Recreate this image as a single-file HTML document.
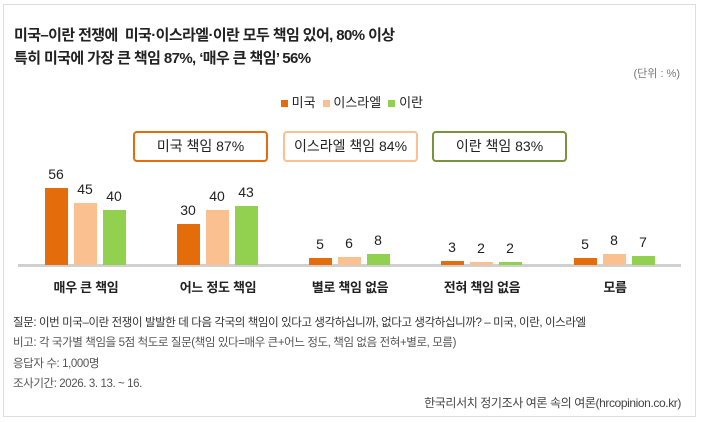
<!DOCTYPE html>
<html><head><meta charset="utf-8"><style>
body{margin:0;background:#fff;font-family:"Liberation Sans","Noto Sans CJK KR",sans-serif;}
.w{position:relative;width:701px;height:422px;overflow:hidden;}
.t{position:absolute;white-space:nowrap;}
.bar{position:absolute;width:23px;}
.o{background:#e46c0a}.p{background:#fac090}.g{background:#92d050}
.v{position:absolute;width:40px;text-align:center;font-size:14px;color:#222;}
.box{position:absolute;top:131px;height:27px;width:131px;border:2px solid;border-radius:4px;text-align:center;line-height:27px;font-size:14px;color:#222;}
.c{position:absolute;width:132px;text-align:center;font-size:13px;font-weight:bold;color:#222;top:277px;letter-spacing:-0.3px}
</style></head><body><div class="w">
<div style="position:absolute;left:3px;top:4px;width:691px;height:411px;border:1.5px solid #ddd;"></div>
<div class="t" style="left:14px;top:24px;font-size:15px;font-weight:bold;letter-spacing:-0.6px;color:#222">미국–이란 전쟁에&nbsp; 미국·이스라엘·이란 모두 책임 있어, 80% 이상</div>
<div class="t" style="left:14px;top:47px;font-size:15px;font-weight:bold;letter-spacing:-0.6px;color:#222">특히 미국에 가장 큰 책임 87%, ‘매우 큰 책임’ 56%</div>
<div class="t" style="right:21px;top:65px;font-size:11px;color:#777">(단위 : %)</div>
<div class="t" style="left:281px;top:92px;font-size:13px;color:#222"><span style="display:inline-block;width:7px;height:7px;background:#e46c0a"></span> 미국&nbsp; <span style="display:inline-block;width:7px;height:7px;background:#fac090"></span> 이스라엘&nbsp; <span style="display:inline-block;width:7px;height:7px;background:#92d050"></span> 이란</div>
<div class="box" style="left:133px;border-color:#e46c0a">미국 책임 87%</div>
<div class="box" style="left:283px;border-color:#fac090">이스라엘 책임 84%</div>
<div class="box" style="left:432px;border-color:#77933c">이란 책임 83%</div>
<div style="position:absolute;left:18px;top:264px;width:663px;height:3px;background:#d0d0d0"></div>
<div class="bar o" style="left:45px;top:188px;height:77px"></div><div class="v" style="left:36px;top:166px">56</div>
<div class="bar p" style="left:74px;top:203px;height:62px"></div><div class="v" style="left:65px;top:181px">45</div>
<div class="bar g" style="left:103px;top:210px;height:55px"></div><div class="v" style="left:94px;top:188px">40</div>
<div class="bar o" style="left:177px;top:224px;height:41px"></div><div class="v" style="left:168px;top:202px">30</div>
<div class="bar p" style="left:206px;top:210px;height:55px"></div><div class="v" style="left:197px;top:188px">40</div>
<div class="bar g" style="left:235px;top:206px;height:59px"></div><div class="v" style="left:226px;top:184px">43</div>
<div class="bar o" style="left:309px;top:258px;height:7px"></div><div class="v" style="left:300px;top:236px">5</div>
<div class="bar p" style="left:338px;top:257px;height:8px"></div><div class="v" style="left:329px;top:235px">6</div>
<div class="bar g" style="left:367px;top:254px;height:11px"></div><div class="v" style="left:358px;top:232px">8</div>
<div class="bar o" style="left:441px;top:261px;height:4px"></div><div class="v" style="left:432px;top:239px">3</div>
<div class="bar p" style="left:470px;top:262px;height:3px"></div><div class="v" style="left:461px;top:240px">2</div>
<div class="bar g" style="left:499px;top:262px;height:3px"></div><div class="v" style="left:490px;top:240px">2</div>
<div class="bar o" style="left:574px;top:258px;height:7px"></div><div class="v" style="left:565px;top:236px">5</div>
<div class="bar p" style="left:603px;top:254px;height:11px"></div><div class="v" style="left:594px;top:232px">8</div>
<div class="bar g" style="left:632px;top:256px;height:9px"></div><div class="v" style="left:623px;top:234px">7</div>
<div class="c" style="left:20px">매우 큰 책임</div>
<div class="c" style="left:152px">어느 정도 책임</div>
<div class="c" style="left:284px">별로 책임 없음</div>
<div class="c" style="left:416px">전혀 책임 없음</div>
<div class="c" style="left:549px">모름</div>
<div class="t" style="left:13px;top:314px;font-size:11.5px;color:#333;letter-spacing:-0.4px">질문: 이번 미국–이란 전쟁이 발발한 데 다음 각국의 책임이 있다고 생각하십니까, 없다고 생각하십니까? – 미국, 이란, 이스라엘</div>
<div class="t" style="left:13px;top:334px;font-size:11.5px;color:#555;letter-spacing:-0.4px">비고: 각 국가별 책임을 5점 척도로 질문(책임 있다=매우 큰+어느 정도, 책임 없음 전혀+별로, 모름)</div>
<div class="t" style="left:13px;top:355px;font-size:11.5px;color:#555;letter-spacing:-0.4px">응답자 수: 1,000명</div>
<div class="t" style="left:13px;top:375px;font-size:11.5px;color:#555;letter-spacing:-0.4px">조사기간: 2026. 3. 13. ~ 16.</div>
<div class="t" style="right:20px;top:394px;font-size:12px;color:#444;letter-spacing:-0.4px">한국리서치 정기조사 여론 속의 여론(hrcopinion.co.kr)</div>
</div></body></html>
